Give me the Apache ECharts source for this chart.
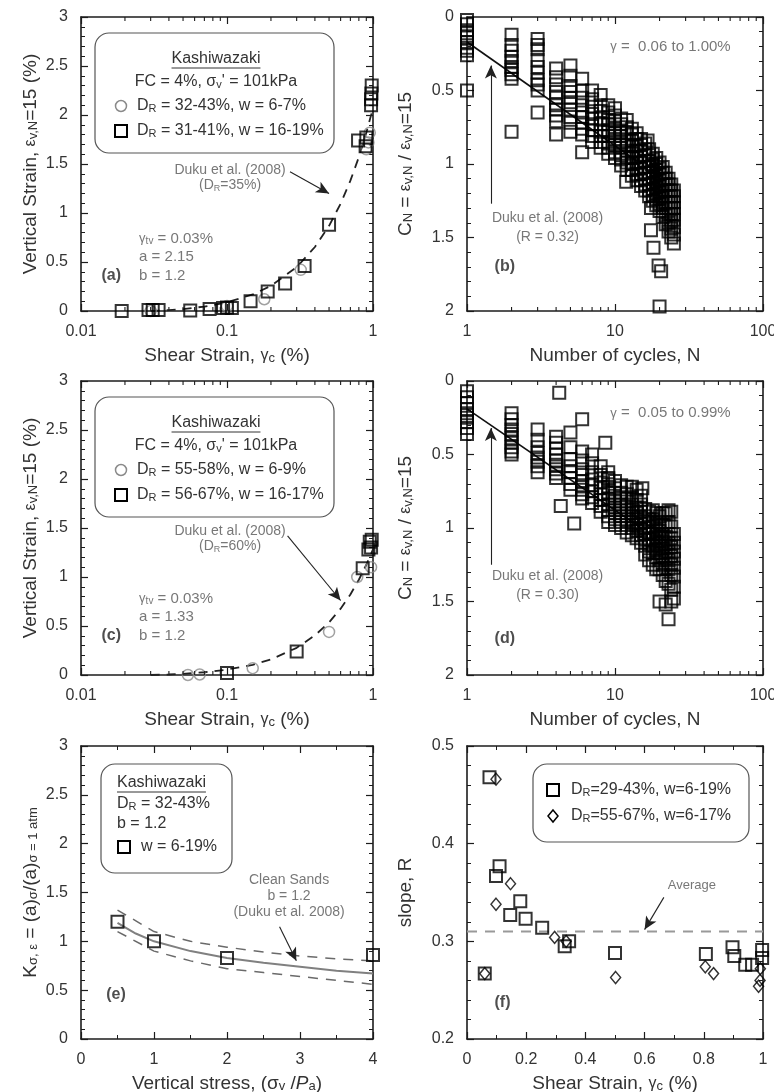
<!DOCTYPE html>
<html>
<head>
<meta charset="utf-8">
<script src="https://cdn.jsdelivr.net/npm/echarts@6/dist/echarts.min.js"></script>
<style>
  html, body { margin: 0; padding: 0; background: #fff; }
  #chart { width: 774px; height: 1092px; }
</style>
</head>
<body>
<div id="chart"></div>
<script>
// ---------- tick labels ----------
const strainLogTicks = ['0.01', '0.1', '1'];
const cycleTicks = ['1', '10', '100'];
const vertStrainTicks = ['0', '0.5', '1', '1.5', '2', '2.5', '3'];
const cnTicks = ['0', '0.5', '1', '1.5', '2'];
const stressTicks = ['0', '1', '2', '3', '4'];
const kTicks = ['0', '0.5', '1', '1.5', '2', '2.5', '3'];
const slopeTicks = ['0.2', '0.3', '0.4', '0.5'];
const strainLinTicks = ['0', '0.2', '0.4', '0.6', '0.8', '1'];
const strainMinor = [0.02, 0.03, 0.04, 0.05, 0.06, 0.07, 0.08, 0.09, 0.2, 0.3, 0.4, 0.5, 0.6, 0.7, 0.8, 0.9];
const cycleMinor = [2, 3, 4, 5, 6, 7, 8, 9, 20, 30, 40, 50, 60, 70, 80, 90];

// ---------- (a) DR ~ 35 % ----------
const aCircles = [[0.03, 0], [0.1, 0.05], [0.18, 0.12], [0.32, 0.42], [0.9, 1.65], [0.93, 1.72], [0.95, 1.82]];
const aSquares = [[0.019, 0], [0.029, 0.01], [0.031, 0.01], [0.034, 0.01], [0.056, 0.005], [0.076, 0.02],
  [0.094, 0.03], [0.1, 0.035], [0.108, 0.03], [0.145, 0.1], [0.19, 0.2], [0.25, 0.28], [0.34, 0.46],
  [0.5, 0.88], [0.79, 1.74], [0.89, 1.68], [0.9, 1.77], [0.97, 2.1], [0.97, 2.16], [0.975, 2.22], [0.98, 2.3]];
const aDuku = [[0.03, 0], [0.04, 0.009], [0.05, 0.02], [0.07, 0.045], [0.1, 0.088], [0.15, 0.169], [0.2, 0.257],
  [0.3, 0.447], [0.4, 0.653], [0.5, 0.869], [0.6, 1.095], [0.7, 1.33], [0.8, 1.57], [0.9, 1.82], [1.0, 2.07]];

// ---------- (c) DR ~ 60 % ----------
const cCircles = [[0.054, 0], [0.065, 0.005], [0.15, 0.07], [0.5, 0.44], [0.78, 1.0], [0.97, 1.1]];
const cSquares = [[0.1, 0.02], [0.3, 0.24], [0.85, 1.09], [0.93, 1.28], [0.95, 1.36], [0.97, 1.3], [0.98, 1.38]];
const cDuku = [[0.03, 0], [0.04, 0.005], [0.05, 0.012], [0.07, 0.028], [0.1, 0.055], [0.15, 0.104], [0.2, 0.159],
  [0.3, 0.277], [0.4, 0.404], [0.5, 0.537], [0.6, 0.677], [0.7, 0.822], [0.8, 0.972], [0.9, 1.125], [1.0, 1.282]];

// ---------- (b) normalised strain vs cycles, loose ----------
const cyclesB = [1, 2, 3, 4, 5, 6, 7, 8, 9, 10, 11, 12, 13, 14, 15, 16, 17, 18, 19, 20, 21, 22, 23, 24, 25];
const cnB = [
  [0.02, 0.05, 0.09, 0.11, 0.14, 0.17, 0.21, 0.23, 0.26, 0.5],
  [0.12, 0.19, 0.23, 0.27, 0.3, 0.34, 0.36, 0.39, 0.42, 0.78],
  [0.15, 0.19, 0.22, 0.29, 0.34, 0.38, 0.43, 0.46, 0.5, 0.65],
  [0.35, 0.41, 0.46, 0.51, 0.55, 0.6, 0.63, 0.67, 0.71, 0.8],
  [0.33, 0.4, 0.47, 0.51, 0.55, 0.58, 0.63, 0.68, 0.72, 0.78],
  [0.42, 0.5, 0.55, 0.6, 0.65, 0.68, 0.72, 0.76, 0.8, 0.92],
  [0.5, 0.56, 0.61, 0.66, 0.69, 0.73, 0.77, 0.81, 0.85],
  [0.53, 0.6, 0.64, 0.69, 0.73, 0.78, 0.81, 0.85, 0.89],
  [0.6, 0.65, 0.7, 0.73, 0.77, 0.81, 0.86, 0.89, 0.93],
  [0.62, 0.67, 0.71, 0.76, 0.79, 0.83, 0.87, 0.92, 0.96],
  [0.69, 0.73, 0.78, 0.81, 0.85, 0.89, 0.94, 0.97, 1.01],
  [0.7, 0.75, 0.79, 0.84, 0.87, 0.91, 0.95, 0.99, 1.04],
  [0.76, 0.8, 0.84, 0.88, 0.93, 0.96, 1.0, 1.04, 1.08],
  [0.79, 0.83, 0.88, 0.91, 0.95, 0.99, 1.03, 1.07, 1.11],
  [0.83, 0.87, 0.91, 0.95, 0.99, 1.03, 1.07, 1.11, 1.15],
  [0.86, 0.9, 0.94, 0.98, 1.02, 1.06, 1.1, 1.14, 1.18],
  [0.9, 0.94, 0.98, 1.02, 1.06, 1.1, 1.14, 1.18, 1.22],
  [0.93, 0.97, 1.01, 1.05, 1.09, 1.13, 1.17, 1.21, 1.25],
  [0.96, 1.0, 1.04, 1.08, 1.12, 1.16, 1.2, 1.24, 1.28],
  [0.99, 1.03, 1.07, 1.11, 1.15, 1.19, 1.23, 1.27, 1.32],
  [1.02, 1.06, 1.1, 1.14, 1.18, 1.22, 1.26, 1.3, 1.36],
  [1.06, 1.1, 1.14, 1.18, 1.22, 1.26, 1.3, 1.35, 1.41],
  [1.1, 1.14, 1.18, 1.22, 1.26, 1.3, 1.34, 1.4, 1.46],
  [1.14, 1.18, 1.22, 1.26, 1.3, 1.34, 1.39, 1.44, 1.5],
  [1.18, 1.22, 1.26, 1.3, 1.34, 1.38, 1.43, 1.48, 1.54]
];
const outliersB = [[11.9, 1.12], [16.6, 0.84], [17.7, 1.0], [17.5, 1.3], [17.5, 1.45], [18.2, 1.57], [19.7, 1.69], [20.5, 1.73], [20, 1.97]];
const dukuB = [[1, 0.17], [15, 1.0]];

// ---------- (d) normalised strain vs cycles, dense ----------
const cyclesD = cyclesB;
const cnD = [
  [0.07, 0.11, 0.15, 0.19, 0.22, 0.25, 0.28, 0.32, 0.36],
  [0.22, 0.26, 0.3, 0.33, 0.36, 0.39, 0.42, 0.45, 0.48, 0.5],
  [0.33, 0.4, 0.45, 0.49, 0.52, 0.55, 0.58, 0.62],
  [0.38, 0.42, 0.46, 0.5, 0.54, 0.57, 0.6, 0.63, 0.66],
  [0.35, 0.45, 0.53, 0.58, 0.62, 0.66, 0.7, 0.74],
  [0.48, 0.54, 0.6, 0.64, 0.68, 0.71, 0.74, 0.77, 0.8],
  [0.5, 0.56, 0.62, 0.67, 0.71, 0.75, 0.79, 0.83],
  [0.58, 0.64, 0.69, 0.73, 0.77, 0.81, 0.85, 0.89],
  [0.62, 0.67, 0.72, 0.76, 0.8, 0.84, 0.88, 0.92, 0.96],
  [0.68, 0.73, 0.78, 0.82, 0.86, 0.9, 0.94, 0.98],
  [0.71, 0.76, 0.8, 0.84, 0.88, 0.92, 0.96, 1.0],
  [0.72, 0.77, 0.82, 0.86, 0.9, 0.94, 0.98, 1.03],
  [0.72, 0.79, 0.84, 0.88, 0.92, 0.96, 1.0, 1.05],
  [0.74, 0.81, 0.86, 0.9, 0.94, 0.98, 1.02, 1.07],
  [0.78, 0.84, 0.89, 0.93, 0.97, 1.01, 1.05, 1.1],
  [0.87, 0.92, 0.96, 1.0, 1.04, 1.08, 1.12, 1.18],
  [0.89, 0.94, 0.99, 1.03, 1.07, 1.11, 1.16, 1.22],
  [0.88, 0.94, 0.99, 1.04, 1.08, 1.12, 1.17, 1.25],
  [0.9, 0.96, 1.01, 1.06, 1.1, 1.15, 1.2, 1.28],
  [0.92, 0.97, 1.02, 1.07, 1.12, 1.17, 1.22, 1.28],
  [0.9, 0.98, 1.04, 1.09, 1.14, 1.19, 1.25, 1.32],
  [0.9, 0.99, 1.06, 1.11, 1.16, 1.21, 1.27, 1.36],
  [0.88, 0.96, 1.04, 1.1, 1.16, 1.22, 1.28, 1.38],
  [0.89, 0.99, 1.07, 1.13, 1.19, 1.25, 1.32, 1.42, 1.5],
  [1.04, 1.1, 1.16, 1.21, 1.27, 1.33, 1.4, 1.48]
];
const outliersD = [[4.2, 0.08], [4.3, 0.85], [5.3, 0.97], [6, 0.26], [8.6, 0.42], [9, 0.66], [15.3, 0.73], [20, 1.5], [22, 1.52], [23, 1.62]];
const dukuD = [[1, 0.19], [15, 1.0]];

// ---------- (e) overburden correction ----------
const eSquares = [[0.5, 1.2], [1, 1.0], [2, 0.83], [4, 0.86]];
const eMean = [[0.5, 1.19], [0.75, 1.08], [1, 1.0], [1.5, 0.9], [2, 0.83], [2.5, 0.78], [3, 0.74], [3.5, 0.7], [4, 0.67]];
const eUpper = [[0.5, 1.32], [1, 1.1], [1.5, 1.0], [2, 0.94], [2.5, 0.89], [3, 0.85], [3.5, 0.82], [4, 0.8]];
const eLower = [[0.5, 1.1], [1, 0.9], [1.5, 0.8], [2, 0.72], [2.5, 0.68], [3, 0.64], [3.5, 0.6], [4, 0.56]];

// ---------- (f) slope R vs shear strain ----------
const fSquares = [[0.06, 0.267], [0.076, 0.468], [0.098, 0.367], [0.11, 0.377], [0.146, 0.327], [0.18, 0.341],
  [0.198, 0.323], [0.254, 0.314], [0.33, 0.295], [0.345, 0.3], [0.5, 0.288], [0.807, 0.287], [0.897, 0.294],
  [0.903, 0.285], [0.94, 0.276], [0.963, 0.276], [0.997, 0.291], [0.997, 0.283]];
const fDiamonds = [[0.06, 0.267], [0.098, 0.466], [0.098, 0.338], [0.147, 0.359], [0.296, 0.304], [0.335, 0.3],
  [0.502, 0.263], [0.805, 0.274], [0.833, 0.267], [0.991, 0.272], [0.99, 0.26], [0.985, 0.254]];
const fAverage = [[0, 0.31], [1, 0.31]];

// ---------- styling ----------
const FONT = '"Liberation Sans", Arial, Helvetica, sans-serif';
const INK = '#1c1c1c';
const LABEL = '#333';
const NOTE = '#555';
function richFor(size) {
  const sub = Math.round(size * 0.66);
  return {
    sub: { fontSize: sub, lineHeight: sub, verticalAlign: 'bottom' },
    g: { fontSize: Math.round(size * 0.85) },
    it: { fontStyle: 'italic' }
  };
}
const TITLE_SIZE = 19;
const TICK_SIZE = 16;
const LEGEND_SIZE = 16;

const frames = [
  { left: 81, top: 17, width: 292, height: 294 },
  { left: 467, top: 17, width: 296, height: 294 },
  { left: 81, top: 381, width: 292, height: 294 },
  { left: 467, top: 381, width: 296, height: 294 },
  { left: 81, top: 746, width: 292, height: 293 },
  { left: 467, top: 746, width: 296, height: 293 }
];

const STRAIN_NAME = 'Shear Strain, {g|γ}{sub|c} (%)';
const VERT_NAME = 'Vertical Strain, {g|ε}{sub|v,N}=15 (%)';
const CN_NAME = 'C{sub|N} = {g|ε}{sub|v,N} / {g|ε}{sub|v,N}=15';
const K_NAME = 'K{sub|σ, ε} = (a){sub|σ}/(a){sub|σ = 1 atm}';
const STRESS_NAME = 'Vertical stress, (σ{sub|v} /{it|P}{sub|a})';

const panels = [
  { x: { type: 'log', min: 0.01, max: 1, ticks: strainLogTicks, name: STRAIN_NAME },
    y: { type: 'value', min: 0, max: 3, interval: 0.5, minor: 5, ticks: vertStrainTicks, name: VERT_NAME, gap: 41 } },
  { x: { type: 'log', min: 1, max: 100, ticks: cycleTicks, name: 'Number of cycles, N' },
    y: { type: 'value', min: 0, max: 2, interval: 0.5, minor: 5, ticks: cnTicks, name: CN_NAME, inverse: true, gap: 52 } },
  { x: { type: 'log', min: 0.01, max: 1, ticks: strainLogTicks, name: STRAIN_NAME },
    y: { type: 'value', min: 0, max: 3, interval: 0.5, minor: 5, ticks: vertStrainTicks, name: VERT_NAME, gap: 41 } },
  { x: { type: 'log', min: 1, max: 100, ticks: cycleTicks, name: 'Number of cycles, N' },
    y: { type: 'value', min: 0, max: 2, interval: 0.5, minor: 5, ticks: cnTicks, name: CN_NAME, inverse: true, gap: 52 } },
  { x: { type: 'value', min: 0, max: 4, interval: 1, minor: 2, ticks: stressTicks, name: STRESS_NAME },
    y: { type: 'value', min: 0, max: 3, interval: 0.5, minor: 5, ticks: kTicks, name: K_NAME, gap: 41 } },
  { x: { type: 'value', min: 0, max: 1, interval: 0.2, minor: 2, ticks: strainLinTicks, name: STRAIN_NAME },
    y: { type: 'value', min: 0.2, max: 0.5, interval: 0.1, minor: 5, ticks: slopeTicks, name: 'slope, R', gap: 52 } }
];

function lookupLabel(labels) {
  return function (v) {
    const hit = labels.find(t => Math.abs(parseFloat(t) - v) < 1e-6 * Math.max(1, Math.abs(v)));
    return hit === undefined ? '' : hit;
  };
}

function axisCommon(spec, gi) {
  const ax = {
    gridIndex: gi,
    type: spec.type,
    min: spec.min,
    max: spec.max,
    axisLine: { show: true, onZero: false, lineStyle: { color: INK, width: 1.6 } },
    axisTick: { show: true, inside: true, length: 7, lineStyle: { color: INK, width: 1.2 } },
    minorTick: spec.minor
      ? { show: true, splitNumber: spec.minor, length: 4, lineStyle: { color: INK, width: 1 } }
      : { show: false },
    splitLine: { show: false },
    minorSplitLine: { show: false }
  };
  if (spec.type === 'log') ax.logBase = 10; else ax.interval = spec.interval;
  if (spec.inverse) ax.inverse = true;
  return ax;
}

function labelled(spec) {
  return {
    show: true, color: LABEL, fontSize: TICK_SIZE, fontFamily: FONT, margin: 13,
    showMinLabel: true, showMaxLabel: true, formatter: lookupLabel(spec.ticks)
  };
}
const titleStyle = { color: LABEL, fontSize: TITLE_SIZE, fontFamily: FONT, rich: richFor(TITLE_SIZE) };

const xAxis = [];
const yAxis = [];
panels.forEach((p, gi) => {
  xAxis.push(Object.assign(axisCommon(p.x, gi), {
    position: 'bottom', axisLabel: labelled(p.x),
    name: p.x.name, nameLocation: 'middle', nameGap: 35, nameTextStyle: titleStyle
  }));
  xAxis.push(Object.assign(axisCommon(p.x, gi), { position: 'top', axisLabel: { show: false } }));
  yAxis.push(Object.assign(axisCommon(p.y, gi), {
    position: 'left', axisLabel: labelled(p.y),
    name: p.y.name, nameLocation: 'middle', nameGap: p.y.gap, nameRotate: 90, nameTextStyle: titleStyle
  }));
  yAxis.push(Object.assign(axisCommon(p.y, gi), { position: 'right', axisLabel: { show: false } }));
});

// ---------- series helpers ----------
function squares(gi, data, size) {
  return {
    type: 'scatter', xAxisIndex: 2 * gi, yAxisIndex: 2 * gi, data: data, silent: true, z: 4,
    symbol: 'rect', symbolSize: size || 11,
    itemStyle: { color: 'rgba(0,0,0,0)', borderColor: '#000', borderWidth: 2 }
  };
}
function circles(gi, data) {
  return {
    type: 'scatter', xAxisIndex: 2 * gi, yAxisIndex: 2 * gi, data: data, silent: true, z: 3,
    symbol: 'circle', symbolSize: 11,
    itemStyle: { color: 'rgba(0,0,0,0)', borderColor: '#8a8a8a', borderWidth: 1.5 }
  };
}
function diamonds(gi, data) {
  return {
    type: 'scatter', xAxisIndex: 2 * gi, yAxisIndex: 2 * gi, data: data, silent: true, z: 4,
    symbol: 'diamond', symbolSize: [10, 12],
    itemStyle: { color: 'rgba(0,0,0,0)', borderColor: '#000', borderWidth: 1.5 }
  };
}
function curve(gi, data, style) {
  return {
    type: 'line', xAxisIndex: 2 * gi, yAxisIndex: 2 * gi, data: data, silent: true, z: 2,
    showSymbol: false, symbol: 'none', smooth: false,
    lineStyle: style
  };
}
// minor decade ticks along the bottom and top edges of a log-scaled frame
function logMinorTicks(gi, values, yVal) {
  return {
    type: 'custom', xAxisIndex: 2 * gi, yAxisIndex: 2 * gi, silent: true, z: 5, clip: false,
    data: values.map(v => [v, yVal]),
    renderItem: function (params, api) {
      const cs = params.coordSys;
      const x = api.coord([api.value(0), api.value(1)])[0];
      const st = { stroke: INK, lineWidth: 1.1 };
      return {
        type: 'group',
        children: [
          { type: 'line', shape: { x1: x, y1: cs.y + cs.height, x2: x, y2: cs.y + cs.height - 4 }, style: st },
          { type: 'line', shape: { x1: x, y1: cs.y, x2: x, y2: cs.y + 4 }, style: st }
        ]
      };
    }
  };
}
function notes(gi, items, arrows) {
  const s = {
    type: 'scatter', xAxisIndex: 2 * gi, yAxisIndex: 2 * gi, silent: true, z: 6,
    symbolSize: 1, itemStyle: { color: 'rgba(0,0,0,0)' },
    data: items.map(it => ({
      value: [it.x, it.y],
      label: {
        show: true, position: 'inside', formatter: it.text,
        align: it.align || 'center', verticalAlign: 'middle',
        fontSize: it.size || 14, fontWeight: it.bold ? 'bold' : 'normal',
        color: it.color || NOTE, fontFamily: FONT, rich: richFor(it.size || 14)
      }
    }))
  };
  if (arrows) {
    s.markLine = {
      silent: true, animation: false, symbol: ['none', 'arrow'], symbolSize: [9, 13],
      label: { show: false }, emphasis: { disabled: true },
      lineStyle: { color: '#222', width: 1.1, type: 'solid' },
      data: arrows.map(a => [{ coord: a[0] }, { coord: a[1] }])
    };
  }
  return s;
}

const dashBlack = { color: '#222', width: 1.8, type: [9, 7] };
const series = [
  // (a)
  curve(0, aDuku, dashBlack),
  circles(0, aCircles),
  squares(0, aSquares, 12),
  logMinorTicks(0, strainMinor, 0),
  notes(0, [
    { x: 0.105, y: 1.44, text: 'Duku et al. (2008)' },
    { x: 0.105, y: 1.28, text: '(D{sub|R}=35%)' },
    { x: 0.025, y: 0.74, text: '{g|γ}{sub|tv} = 0.03%', align: 'left', size: 15 },
    { x: 0.025, y: 0.55, text: 'a = 2.15', align: 'left', size: 15 },
    { x: 0.025, y: 0.36, text: 'b = 1.2', align: 'left', size: 15 },
    { x: 0.0138, y: 0.36, text: '(a)', align: 'left', bold: true, color: '#222', size: 16 }
  ], [[[0.27, 1.42], [0.5, 1.2]]]),
  // (b)
  curve(1, dukuB, { color: '#111', width: 1.6, type: 'solid' }),
  squares(1, cyclesB.flatMap((n, i) => cnB[i].map(c => [n, c])).concat(outliersB), 12),
  logMinorTicks(1, cycleMinor, 2),
  notes(1, [
    { x: 9.3, y: 0.2, text: '{g|γ} =  0.06 to 1.00%', align: 'left', size: 15 },
    { x: 3.5, y: 1.37, text: 'Duku et al. (2008)' },
    { x: 3.5, y: 1.5, text: '(R = 0.32)' },
    { x: 1.8, y: 1.7, text: '(b)', bold: true, color: '#222', size: 16 }
  ], [[[1.45, 1.27], [1.45, 0.33]]]),
  // (c)
  curve(2, cDuku, dashBlack),
  circles(2, cCircles),
  squares(2, cSquares, 12),
  logMinorTicks(2, strainMinor, 0),
  notes(2, [
    { x: 0.105, y: 1.47, text: 'Duku et al. (2008)' },
    { x: 0.105, y: 1.31, text: '(D{sub|R}=60%)' },
    { x: 0.025, y: 0.78, text: '{g|γ}{sub|tv} = 0.03%', align: 'left', size: 15 },
    { x: 0.025, y: 0.59, text: 'a = 1.33', align: 'left', size: 15 },
    { x: 0.025, y: 0.4, text: 'b = 1.2', align: 'left', size: 15 },
    { x: 0.0138, y: 0.4, text: '(c)', align: 'left', bold: true, color: '#222', size: 16 }
  ], [[[0.26, 1.42], [0.6, 0.76]]]),
  // (d)
  curve(3, dukuD, { color: '#111', width: 1.6, type: 'solid' }),
  squares(3, cyclesD.flatMap((n, i) => cnD[i].map(c => [n, c])).concat(outliersD), 12),
  logMinorTicks(3, cycleMinor, 2),
  notes(3, [
    { x: 9.3, y: 0.22, text: '{g|γ} =  0.05 to 0.99%', align: 'left', size: 15 },
    { x: 3.5, y: 1.33, text: 'Duku et al. (2008)' },
    { x: 3.5, y: 1.46, text: '(R = 0.30)' },
    { x: 1.8, y: 1.75, text: '(d)', bold: true, color: '#222', size: 16 }
  ], [[[1.45, 1.25], [1.45, 0.32]]]),
  // (e)
  curve(4, eUpper, { color: '#6a6a6a', width: 1.5, type: [10, 8] }),
  curve(4, eLower, { color: '#6a6a6a', width: 1.5, type: [10, 8] }),
  curve(4, eMean, { color: '#808080', width: 2, type: 'solid' }),
  squares(4, eSquares, 12),
  notes(4, [
    { x: 2.85, y: 1.63, text: 'Clean Sands' },
    { x: 2.85, y: 1.46, text: 'b = 1.2' },
    { x: 2.85, y: 1.3, text: '(Duku et al. 2008)' },
    { x: 0.48, y: 0.45, text: '(e)', bold: true, color: '#222', size: 16 }
  ], [[[2.72, 1.15], [2.95, 0.8]]]),
  // (f)
  curve(5, fAverage, { color: '#999', width: 2, type: [10, 8] }),
  squares(5, fSquares, 12),
  diamonds(5, fDiamonds),
  notes(5, [
    { x: 0.76, y: 0.357, text: 'Average', size: 13 },
    { x: 0.12, y: 0.237, text: '(f)', bold: true, color: '#222', size: 16 }
  ], [[[0.665, 0.345], [0.6, 0.312]]])
];

// ---------- legend boxes ----------
const measureCtx = document.createElement('canvas').getContext('2d');
function textWidth(str, size) {
  measureCtx.font = size + 'px ' + FONT;
  return measureCtx.measureText(str).width;
}
const legendRich = richFor(LEGEND_SIZE);
function gText(x, y, text, align) {
  return {
    type: 'text', x: x, y: y, z: 100, silent: true,
    style: { text: text, fill: LABEL, fontSize: LEGEND_SIZE, fontFamily: FONT, align: align || 'left', verticalAlign: 'middle', rich: legendRich }
  };
}
function gBox(x, y, w, h) {
  return { type: 'rect', z: 99, silent: true, shape: { x: x, y: y, width: w, height: h, r: 14 }, style: { fill: '#fff', stroke: '#555', lineWidth: 1.2 } };
}
function gSquare(cx, cy) {
  return { type: 'rect', z: 100, silent: true, shape: { x: cx - 6, y: cy - 6, width: 12, height: 12 }, style: { fill: 'none', stroke: '#000', lineWidth: 2 } };
}
function gCircle(cx, cy) {
  return { type: 'circle', z: 100, silent: true, shape: { cx: cx, cy: cy, r: 5.5 }, style: { fill: 'none', stroke: '#8a8a8a', lineWidth: 1.5 } };
}
function gDiamond(cx, cy) {
  return { type: 'polygon', z: 100, silent: true, shape: { points: [[cx, cy - 6], [cx + 5, cy], [cx, cy + 6], [cx - 5, cy]] }, style: { fill: 'none', stroke: '#000', lineWidth: 1.5 } };
}
function gUnderline(x1, x2, y) {
  return { type: 'line', z: 100, silent: true, shape: { x1: x1, y1: y, x2: x2, y2: y }, style: { stroke: LABEL, lineWidth: 1 } };
}

const siteName = 'Kashiwazaki';
function strainLegend(F, row1, row2) {
  const cx = F.left + 135;
  const w = textWidth(siteName, LEGEND_SIZE);
  return [
    gBox(F.left + 14, F.top + 16, 239, 120),
    gText(cx, F.top + 42, siteName, 'center'),
    gUnderline(cx - w / 2, cx + w / 2, F.top + 51),
    gText(cx, F.top + 65, 'FC = 4%, σ{sub|v}\' = 101kPa', 'center'),
    gCircle(F.left + 40, F.top + 89),
    gText(F.left + 56, F.top + 89, row1),
    gSquare(F.left + 40, F.top + 114),
    gText(F.left + 56, F.top + 114, row2)
  ];
}
const Fe = frames[4];
const Ff = frames[5];
const graphic = [].concat(
  strainLegend(frames[0], '{it|D}{sub|R} = 32-43%, w = 6-7%', '{it|D}{sub|R} = 31-41%, w = 16-19%'),
  strainLegend(frames[2], '{it|D}{sub|R} = 55-58%, w = 6-9%', '{it|D}{sub|R} = 56-67%, w = 16-17%'),
  [
    gBox(Fe.left + 20, Fe.top + 18, 131, 109),
    gText(Fe.left + 36, Fe.top + 37, siteName),
    gUnderline(Fe.left + 36, Fe.left + 36 + textWidth(siteName, LEGEND_SIZE), Fe.top + 46),
    gText(Fe.left + 36, Fe.top + 58, 'D{sub|R} = 32-43%'),
    gText(Fe.left + 36, Fe.top + 78, 'b = 1.2'),
    gSquare(Fe.left + 43, Fe.top + 101),
    gText(Fe.left + 60, Fe.top + 101, 'w = 6-19%'),

    gBox(Ff.left + 66, Ff.top + 18, 216, 78),
    gSquare(Ff.left + 86, Ff.top + 44),
    gText(Ff.left + 104, Ff.top + 44, 'D{sub|R}=29-43%, w=6-19%'),
    gDiamond(Ff.left + 86, Ff.top + 70),
    gText(Ff.left + 104, Ff.top + 70, 'D{sub|R}=55-67%, w=6-17%')
  ]
);

const chart = echarts.init(document.getElementById('chart'), null, { renderer: 'canvas', width: 774, height: 1092 });
chart.setOption({
  animation: false,
  backgroundColor: '#fff',
  textStyle: { fontFamily: FONT },
  grid: frames.map(f => Object.assign({ show: false, containLabel: false, outerBoundsMode: 'none' }, f)),
  xAxis: xAxis,
  yAxis: yAxis,
  series: series,
  graphic: graphic
});
</script>
</body>
</html>
